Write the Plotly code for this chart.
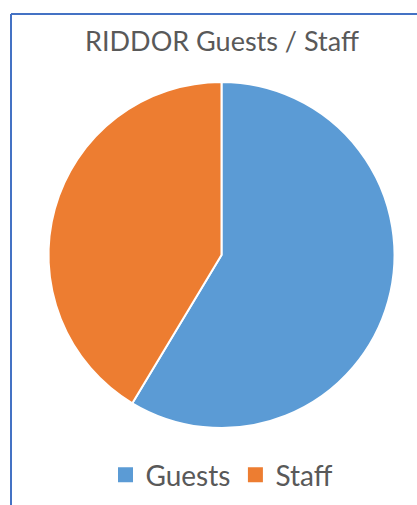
import plotly.graph_objects as go

# RIDDOR reportable incidents split by who was involved
labels = ["Guests", "Staff"]
counts = [17, 12]
slice_colors = ["#5B9BD5", "#ED7D31"]

W, H = 417, 505
TEXT_GREY = "#595959"
FRAME_BLUE = "#4472C4"

fig = go.Figure(
    go.Pie(
        labels=labels,
        values=counts,
        sort=False,
        direction="clockwise",
        rotation=0,
        textinfo="none",
        hoverinfo="label+value+percent",
        showlegend=False,
        marker=dict(colors=slice_colors, line=dict(color="white", width=2)),
        domain=dict(x=[48 / W, 395 / W], y=[1 - 428 / H, 1 - 82 / H]),
    )
)

# legend keys: square swatches, one per category
for name, colour in zip(labels, slice_colors):
    fig.add_trace(
        go.Scatter(
            x=[None], y=[None], mode="markers", name=name,
            marker=dict(symbol="square", size=15, color=colour),
            hoverinfo="skip",
        )
    )

# chart frame: left and top edges
fig.add_shape(type="line", xref="paper", yref="paper",
              x0=11 / W, x1=11 / W, y0=0, y1=1 - 14 / H,
              line=dict(color=FRAME_BLUE, width=2))
fig.add_shape(type="line", xref="paper", yref="paper",
              x0=11 / W, x1=1, y0=1 - 14 / H, y1=1 - 14 / H,
              line=dict(color=FRAME_BLUE, width=2))

fig.update_layout(
    width=W,
    height=H,
    margin=dict(l=0, r=0, t=0, b=0),
    paper_bgcolor="white",
    plot_bgcolor="white",
    xaxis=dict(visible=False),
    yaxis=dict(visible=False),
    font=dict(family="Lato, Open Sans, sans-serif", color=TEXT_GREY),
    title=dict(
        text="RIDDOR Guests / Staff",
        x=222 / W,
        xanchor="center",
        y=1 - 42 / H,
        yanchor="middle",
        font=dict(size=27, color=TEXT_GREY),
    ),
    showlegend=True,
    legend=dict(
        orientation="h",
        x=222 / W,
        xanchor="center",
        y=1 - 475 / H,
        yanchor="middle",
        font=dict(size=28, color=TEXT_GREY),
        itemwidth=30,
        bgcolor="rgba(0,0,0,0)",
    ),
)

fig.write_html("out.html")
